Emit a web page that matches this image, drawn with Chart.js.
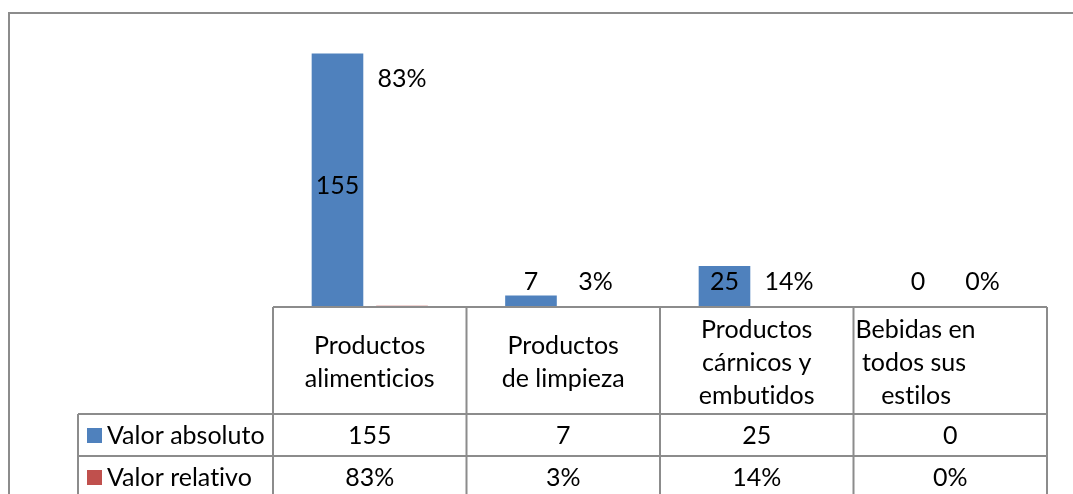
<!DOCTYPE html>
<html lang="es">
<head>
  <meta charset="UTF-8" />
  <title>Productos</title>
  <script src="https://cdn.jsdelivr.net/npm/chart.js"></script>
  <style>
    html, body { margin: 0; padding: 0; background: #fff; }
    canvas { display: block; }
  </style>
</head>
<body>
  <canvas id="productChart" width="1073" height="494"></canvas>

  <script>
    // header lines of each category, as they wrap in the table
    const categories = [
      ['Productos', 'alimenticios'],
      ['Productos', 'de limpieza'],
      ['Productos', 'cárnicos y', 'embutidos'],
      ['Bebidas en', ' todos sus', '    estilos']
    ];
    const seriesNames = ['Valor absoluto', 'Valor relativo'];
    const absoluteValues = [155, 7, 25, 0];
    const relativeValues = [0.83, 0.03, 0.14, 0];

    const BLUE = '#4f81bd';
    const RED = '#c0504d';
    const GRID = '#8c8c8c';
    const FONT = '25px Lato';
    const headerAlign = ['center', 'center', 'center', 'left'];

    const pct = v => Math.round(v * 100) + '%';
    const formats = [v => String(v), pct];

    function textStyle(ctx) {
      ctx.font = FONT;
      ctx.fillStyle = '#000';
      ctx.textBaseline = 'middle';
      ctx.letterSpacing = '0.01px'; // keeps "ti" from turning into a ligature
    }

    // outer chart frame (right and bottom edges run off the page)
    const frame = {
      id: 'frame',
      beforeDraw(chart) {
        const ctx = chart.ctx;
        ctx.save();
        ctx.strokeStyle = GRID;
        ctx.lineWidth = 2;
        ctx.strokeRect(9, 13, 1200, 600);
        ctx.restore();
      }
    };

    // value labels: big bars get theirs in the middle, small ones are lifted to one line
    const barLabels = {
      id: 'barLabels',
      afterDatasetsDraw(chart) {
        const ctx = chart.ctx;
        const base = chart.scales.y.getPixelForValue(0);
        const share = chart.scales.share;
        ctx.save();
        textStyle(ctx);
        ctx.textAlign = 'center';
        chart.data.datasets.forEach((ds, di) => {
          chart.getDatasetMeta(di).data.forEach((bar, i) => {
            let y = di === 0 ? (bar.y + base) / 2 + 6 : share.getPixelForValue(ds.data[i]);
            if (base - y < 45) y = base - 25;
            ctx.fillText(formats[di](ds.data[i]), bar.x, y);
          });
        });
        ctx.restore();
      }
    };

    // data table under the plot, legend keys in the row headers
    const dataTable = {
      id: 'dataTable',
      afterDraw(chart) {
        const ctx = chart.ctx;
        const x = chart.scales.x;
        const top = chart.chartArea.bottom;
        const colW = x.width / categories.length;
        const headH = 107;
        const rowH = 42;
        const keyLeft = 78;
        const headBottom = top + headH;
        const tableBottom = headBottom + rowH * seriesNames.length;

        ctx.save();
        ctx.strokeStyle = GRID;
        ctx.lineWidth = 2;
        ctx.beginPath();
        ctx.moveTo(x.left, top);
        ctx.lineTo(x.right, top);
        for (let r = 0; r <= seriesNames.length; r++) {
          ctx.moveTo(keyLeft, headBottom + r * rowH);
          ctx.lineTo(x.right, headBottom + r * rowH);
        }
        for (let c = 0; c <= categories.length; c++) {
          ctx.moveTo(x.left + c * colW, top);
          ctx.lineTo(x.left + c * colW, tableBottom);
        }
        ctx.moveTo(keyLeft, headBottom);
        ctx.lineTo(keyLeft, tableBottom);
        ctx.stroke();

        textStyle(ctx);

        // category headers
        const lineH = 33;
        categories.forEach((lines, i) => {
          const cx = x.getPixelForValue(i);
          const cy = top + headH / 2 + 2;
          ctx.textAlign = headerAlign[i];
          const tx = headerAlign[i] === 'left' ? cx - colW / 2 + 2 : cx;
          lines.forEach((line, k) => {
            ctx.fillText(line, tx, cy + (k - (lines.length - 1) / 2) * lineH);
          });
        });

        // series rows
        chart.data.datasets.forEach((ds, di) => {
          const cy = headBottom + di * rowH + rowH / 2 + 1;
          ctx.fillStyle = ds.backgroundColor;
          ctx.fillRect(keyLeft + 9, cy - 8, 15, 15);
          ctx.fillStyle = '#000';
          ctx.textAlign = 'left';
          ctx.fillText(ds.label, keyLeft + 29, cy);
          ctx.textAlign = 'center';
          ds.data.forEach((v, i) => {
            ctx.fillText(formats[di](v), x.getPixelForValue(i), cy);
          });
        });
        ctx.restore();
      }
    };

    const ctx = document.getElementById('productChart').getContext('2d');
    new Chart(ctx, {
      type: 'bar',
      data: {
        labels: categories,
        datasets: [
          { label: seriesNames[0], data: absoluteValues, backgroundColor: BLUE },
          { label: seriesNames[1], data: relativeValues, backgroundColor: RED }
        ]
      },
      options: {
        responsive: false,
        animation: false,
        events: [],
        categoryPercentage: 0.667,
        barPercentage: 0.8,
        layout: { padding: { left: 273, right: 26, top: 12.5, bottom: 187 } },
        scales: {
          x: { display: false },
          y: { display: false, min: 0, max: 180 },
          share: { display: false, min: 0, max: 1.07, position: 'right' }
        },
        plugins: {
          legend: { display: false },
          tooltip: { enabled: false }
        }
      },
      plugins: [frame, barLabels, dataTable]
    });
  </script>
</body>
</html>
